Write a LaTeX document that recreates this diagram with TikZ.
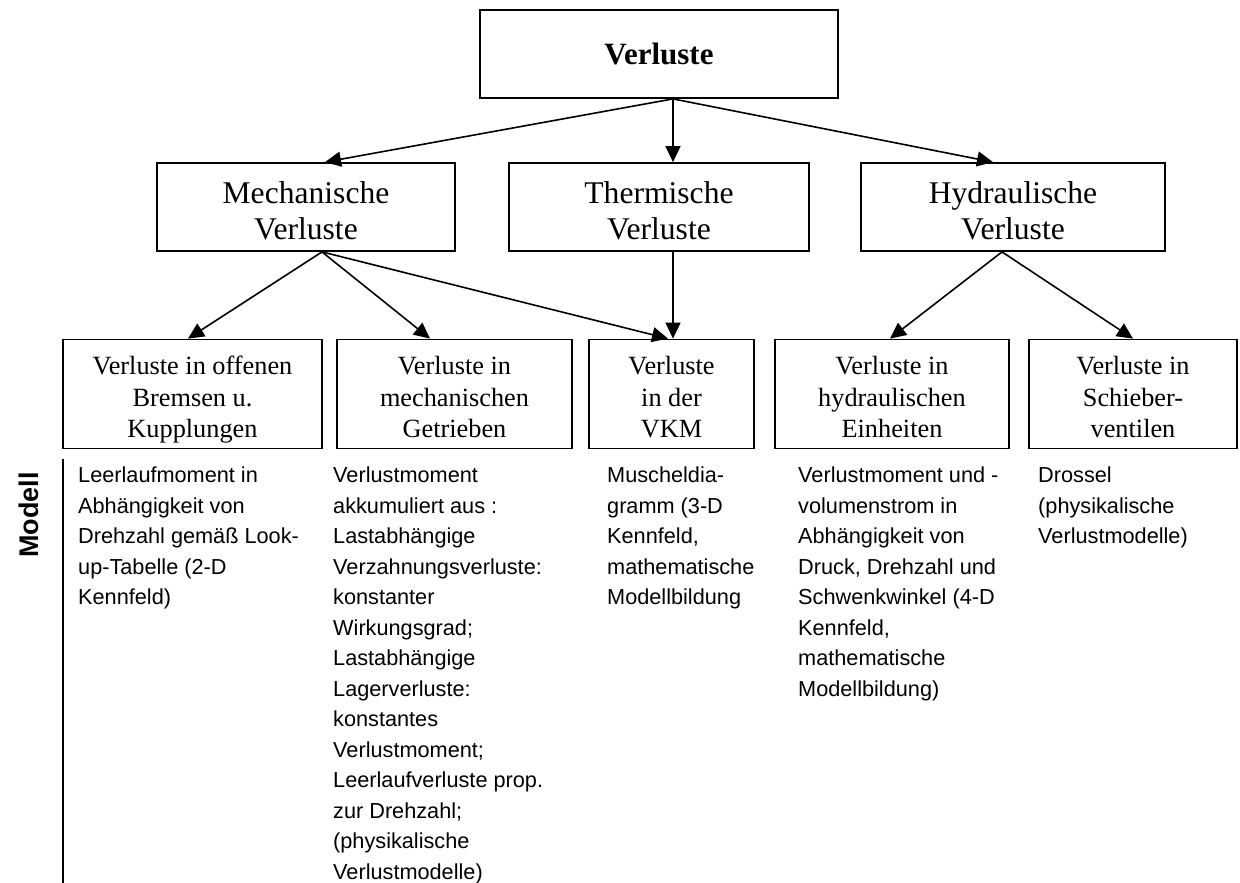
\documentclass[tikz,border=0pt]{standalone}
\usepackage{fontspec}
\setmainfont{Liberation Serif}
\newfontfamily\arialf{Liberation Sans}
\usetikzlibrary{arrows.meta}
\begin{document}
\begin{tikzpicture}[x=1pt,y=-1pt,
  box/.style={draw, line width=1.8pt, inner sep=0pt},
  midbox/.style={box, minimum width=300pt, minimum height=88pt},
  lowbox/.style={box, minimum height=109pt},
  midtxt/.style={inner sep=0pt, align=center, font=\fontsize{31.6}{36.5}\selectfont},
  lowtxt/.style={inner sep=0pt, align=center, font=\fontsize{26.3}{31.5}\selectfont},
  conn/.style={line width=1.6pt, -{Triangle[length=16pt,width=15pt]}},
  col/.style={anchor=north west, inner sep=0pt, align=left, font=\arialf\fontsize{21.7}{30.5}\selectfont}
]
\useasboundingbox (0,0) rectangle (1240,883);
% top
\node[box, minimum width=358pt, minimum height=88pt, font=\bfseries\fontsize{31}{36}\selectfont] (top) at (659,54) {Verluste};
% middle
\node[midbox, minimum width=298pt] (mech) at (306,207) {};
\node[midbox] (therm) at (659,207) {};
\node[midbox, minimum width=304pt] (hydr) at (1013,207) {};
\node[midtxt] (mecht) at ([yshift=-7pt]mech.center) {\strut Mechanische\\Verluste\strut};
\node[midtxt] (thermt) at ([yshift=-7pt]therm.center) {\strut Thermische\\Verluste\strut};
\node[midtxt] (hydrt) at ([yshift=-7pt]hydr.center) {\strut Hydraulische\\Verluste\strut};
% bottom
\node[lowbox, minimum width=259pt] (b1) at (192.5,394) {};
\node[lowbox, minimum width=235pt] (b2) at (454.5,394) {};
\node[lowbox, minimum width=165pt] (b3) at (671.5,394) {};
\node[lowbox, minimum width=234pt] (b4) at (892,394) {};
\node[lowbox, minimum width=208pt] (b5) at (1133,394) {};
\node[lowtxt] (b1t) at ([yshift=-6pt]b1.center) {\strut Verluste in offenen\\Bremsen u.\\Kupplungen\strut};
\node[lowtxt] (b2t) at ([yshift=-6pt]b2.center) {\strut Verluste in\\mechanischen\\Getrieben\strut};
\node[lowtxt] (b3t) at ([yshift=-6pt]b3.center) {\strut Verluste\\in der\\VKM\strut};
\node[lowtxt] (b4t) at ([yshift=-6pt]b4.center) {\strut Verluste in\\hydraulischen\\Einheiten\strut};
\node[lowtxt] (b5t) at ([yshift=-6pt]b5.center) {\strut Verluste in\\Schieber-\\ventilen\strut};
% anchor points
\coordinate (topS) at ([xshift=14pt]top.south);
\coordinate (mechN) at ([xshift=19pt]mech.north);
\coordinate (mechS) at ([xshift=16pt]mech.south);
\coordinate (thermN) at ([xshift=14pt]therm.north);
\coordinate (thermS) at ([xshift=14pt]therm.south);
\coordinate (hydrN) at ([xshift=-20pt]hydr.north);
\coordinate (hydrS) at ([xshift=-11pt]hydr.south);
\coordinate (b1N) at ([xshift=-4.5pt]b1.north);
\coordinate (b2N) at ([xshift=-24.5pt]b2.north);
\coordinate (b3Na) at ([xshift=-3.5pt]b3.north);
\coordinate (b3Nb) at ([xshift=1.5pt]b3.north);
\coordinate (b4N) at ([xshift=-2pt]b4.north);
\coordinate (b5N) at (b5.north);
% connectors
\draw[conn] (topS) -- (mechN);
\draw[conn] (topS) -- (thermN);
\draw[conn] (topS) -- (hydrN);
\draw[conn] (mechS) -- (b1N);
\draw[conn] (mechS) -- (b2N);
\draw[conn] (mechS) -- (b3Na);
\draw[conn] (thermS) -- (b3Nb);
\draw[conn] (hydrS) -- (b4N);
\draw[conn] (hydrS) -- (b5N);
% model label and line
\node[rotate=90, font=\arialf\bfseries\fontsize{27}{30}\selectfont] (modell) at (29,515) {Modell};
\coordinate (vlA) at (63,459);
\coordinate (vlB) at (63,883);
\draw[line width=1.8pt] (vlA) -- (vlB);
% columns
\node[col] (c1) at (78,467) {Leerlaufmoment in\\Abhängigkeit von\\Drehzahl gemäß Look-\\up-Tabelle (2-D\\Kennfeld)};
\node[col] (c2) at (333,467) {Verlustmoment\\akkumuliert aus :\\Lastabhängige\\Verzahnungsverluste:\\konstanter\\Wirkungsgrad;\\Lastabhängige\\Lagerverluste:\\konstantes\\Verlustmoment;\\Leerlaufverluste prop.\\zur Drehzahl;\\(physikalische\\Verlustmodelle)};
\node[col] (c3) at (607,467) {Muscheldia-\\gramm (3-D\\Kennfeld,\\mathematische\\Modellbildung};
\node[col] (c4) at (798,467) {Verlustmoment und -\\volumenstrom in\\Abhängigkeit von\\Druck, Drehzahl und\\Schwenkwinkel (4-D\\Kennfeld,\\mathematische\\Modellbildung)};
\node[col] (c5) at (1038,467) {Drossel\\(physikalische\\Verlustmodelle)};
\end{tikzpicture}
\end{document}
